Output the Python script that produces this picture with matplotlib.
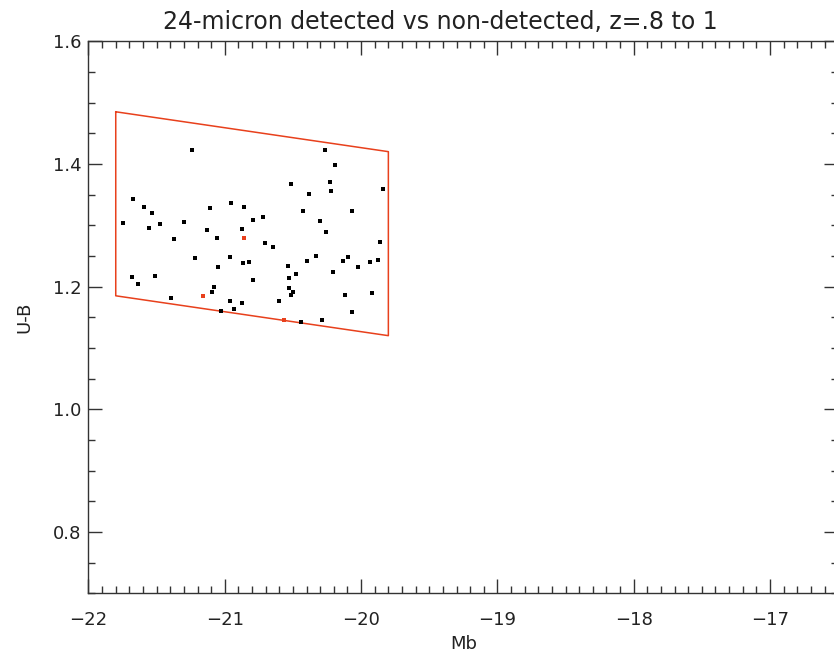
import matplotlib.pyplot as plt
from matplotlib.ticker import MultipleLocator

# absolute B magnitude and U-B colour, 24-micron non-detections
mb_non = [-21.238, -21.671, -21.595, -21.536, -21.109, -20.957, -20.857, -21.749,
          -21.556, -21.473, -21.297, -21.133, -20.872, -21.059, -21.375, -21.216,
          -20.962, -20.864, -20.822, -21.050, -21.683, -21.635, -21.512, -21.081,
          -21.096, -21.393, -20.962, -20.876, -20.933, -21.026, -20.267, -20.194,
          -20.517, -20.226, -20.219, -20.380, -19.837, -20.424, -20.067, -20.793,
          -20.722, -20.299, -20.255, -20.705, -20.649, -19.861, -20.331, -20.399,
          -20.135, -20.096, -19.935, -19.878, -20.021, -20.536, -20.480, -20.208,
          -20.791, -20.527, -20.527, -20.502, -20.517, -20.605, -20.116, -19.920,
          -20.065, -20.439, -20.287]
ub_non = [1.423, 1.342, 1.329, 1.320, 1.328, 1.337, 1.329, 1.303,
          1.295, 1.302, 1.305, 1.292, 1.294, 1.279, 1.278, 1.246,
          1.249, 1.239, 1.240, 1.232, 1.215, 1.205, 1.218, 1.199,
          1.192, 1.181, 1.177, 1.173, 1.164, 1.160, 1.422, 1.399,
          1.368, 1.370, 1.356, 1.351, 1.359, 1.323, 1.324, 1.309,
          1.314, 1.307, 1.289, 1.271, 1.265, 1.272, 1.250, 1.241,
          1.242, 1.248, 1.240, 1.244, 1.232, 1.233, 1.221, 1.223,
          1.210, 1.214, 1.198, 1.192, 1.186, 1.176, 1.186, 1.189,
          1.159, 1.142, 1.145]

# 24-micron detected
mb_det = [-20.857, -21.160, -20.566]
ub_det = [1.280, 1.184, 1.146]

# selection box (Mb, U-B corners)
box_mb = [-21.8, -19.8, -19.8, -21.8, -21.8]
box_ub = [1.485, 1.42, 1.12, 1.185, 1.485]

RED = '#e8401c'
TEXT = '#222222'

fig = plt.figure(figsize=(8.34, 6.6), dpi=100)
ax = fig.add_axes([0.1061, 0.1011, 0.8989, 0.8364])

ax.plot(box_mb, box_ub, color=RED, lw=1.1)
ax.plot(mb_non, ub_non, 's', color='black', markersize=2.2, mew=0)
ax.plot(mb_det, ub_det, 's', color=RED, markersize=2.2, mew=0)

ax.set_xlim(-22, -16.5)
ax.set_ylim(0.7, 1.6)
ax.xaxis.set_major_locator(MultipleLocator(1))
ax.xaxis.set_minor_locator(MultipleLocator(0.1))
ax.yaxis.set_major_locator(MultipleLocator(0.2))
ax.yaxis.set_minor_locator(MultipleLocator(0.05))
ax.yaxis.set_major_formatter(plt.FuncFormatter(lambda v, p: '%.1f' % v))

ax.tick_params(which='both', direction='in', top=True, right=True,
               width=1, color='#333333', labelcolor=TEXT, labelsize=13)
ax.tick_params(which='major', length=10)
ax.tick_params(which='minor', length=5)
ax.tick_params(axis='x', pad=13)
ax.tick_params(axis='y', pad=5)
for s in ax.spines.values():
    s.set_color('#333333')
    s.set_linewidth(1)

ax.set_xlabel('Mb', fontsize=13, color=TEXT, labelpad=4)
ax.set_ylabel('U-B', fontsize=13, color=TEXT, labelpad=14)
fig.text(440 / 834, 1 - 22 / 660, '24-micron detected vs non-detected, z=.8 to 1',
         ha='center', va='center', fontsize=17, color=TEXT)

fig.savefig('out.png', dpi=100)
